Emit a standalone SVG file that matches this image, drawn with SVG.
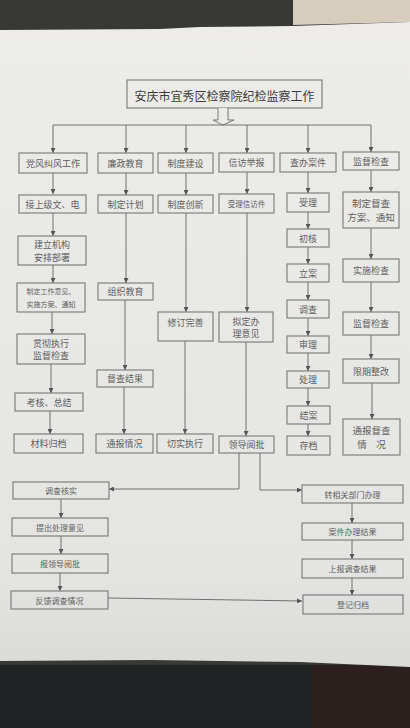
<svg xmlns="http://www.w3.org/2000/svg" width="410" height="728" viewBox="0 0 410 728">
<defs>
<linearGradient id="paper" x1="0" y1="0" x2="0" y2="1">
<stop offset="0" stop-color="#edece9"/>
<stop offset="0.5" stop-color="#e8e8e6"/>
<stop offset="0.85" stop-color="#e4e4e2"/>
<stop offset="1" stop-color="#dadad8"/>
</linearGradient>
<marker id="ah" viewBox="0 0 6 6" refX="6" refY="3" markerWidth="5" markerHeight="5" markerUnits="userSpaceOnUse" orient="auto">
<path d="M0,0 L6,3 L0,6 Z" fill="#555"/>
</marker>
<style>
.b{fill:none;stroke:#777;stroke-width:1.1}
.t{font-family:"Noto Sans CJK SC","Noto Sans CJK JP",sans-serif;fill:#606060;text-anchor:middle;dominant-baseline:central}
.c{fill:none;stroke:#707070;stroke-width:1;marker-end:url(#ah)}
.l{fill:none;stroke:#707070;stroke-width:1}
</style>
</defs>
<rect x="0" y="0" width="410" height="728" fill="#383836"/>
<polygon points="293,0 410,0 410,22 293,25" fill="#d6cdbd"/>
<polygon points="0,665 410,665 410,728 0,728" fill="#1f2323"/>
<polygon points="312,665 410,665 410,728 312,728" fill="#2b201d"/>
<path d="M0,30 L160,29 L200,27 L293,26 L410,22 L410,667 L300,662 L150,660 L0,661 Z" fill="url(#paper)"/>

<g id="title">
<rect class="b" x="127" y="80" width="195" height="28"/>
<text class="t" x="224.5" y="95" font-size="12" style="fill:#3c3c3c">安庆市宜秀区检察院纪检监察工作</text>
<path d="M218,108 V120 H213 L223,125 L234,120 H228 V108" fill="#ececea" stroke="#777" stroke-width="1"/>
</g>

<g id="connectors">
<path class="l" d="M53,125 H371"/>
<path class="c" d="M53,125 V153"/>
<path class="c" d="M126,125 V153"/>
<path class="c" d="M186,125 V153"/>
<path class="c" d="M247,125 V153"/>
<path class="c" d="M308,125 V153"/>
<path class="c" d="M371,125 V152"/>
<path class="c" d="M53,173 V194"/>
<path class="c" d="M53,213 V236"/>
<path class="c" d="M53,265 V283"/>
<path class="c" d="M52,312 V334"/>
<path class="c" d="M51,364 V393"/>
<path class="c" d="M50,411 V434"/>
<path class="c" d="M126,173 V195"/>
<path class="c" d="M126,213 V283"/>
<path class="c" d="M125,300 V370"/>
<path class="c" d="M124,387 V434"/>
<path class="c" d="M186,173 V195"/>
<path class="c" d="M186,213 V312"/>
<path class="c" d="M185,341 V434"/>
<path class="c" d="M247,172 V194"/>
<path class="c" d="M247,213 V312"/>
<path class="c" d="M246,342 V436"/>
<path class="c" d="M308,172 V193"/>
<path class="c" d="M308,212 V229"/>
<path class="c" d="M308,247 V264"/>
<path class="c" d="M308,282 V300"/>
<path class="c" d="M308,318 V336"/>
<path class="c" d="M308,353 V371"/>
<path class="c" d="M308,388 V406"/>
<path class="c" d="M308,424 V436"/>
<path class="c" d="M371,170 V192"/>
<path class="c" d="M371,228 V259"/>
<path class="c" d="M371,282 V312"/>
<path class="c" d="M371,335 V359"/>
<path class="c" d="M372,383 V419"/>
<path class="c" d="M239,453 V489 H109"/>
<path class="c" d="M260,453 V490 H302"/>
<path class="c" d="M61,499 V518"/>
<path class="c" d="M61,536 V554"/>
<path class="c" d="M60,573 V591"/>
<path class="c" d="M352,503 V523"/>
<path class="c" d="M352,540 V559"/>
<path class="c" d="M352,578 V595"/>
<path class="c" d="M108,598 L302,601"/>
</g>

<g id="n1"><rect class="b" x="19" y="153" width="68" height="20"/><text class="t" x="53" y="163" font-size="9">党风纠风工作</text></g>
<g id="n2"><rect class="b" x="98" y="153" width="55" height="20"/><text class="t" x="125.5" y="163" font-size="9">廉政教育</text></g>
<g id="n3"><rect class="b" x="158" y="153" width="55" height="20"/><text class="t" x="185.5" y="163" font-size="9">制度建设</text></g>
<g id="n4"><rect class="b" x="219" y="153" width="55" height="19"/><text class="t" x="246.5" y="162.5" font-size="9">信访举报</text></g>
<g id="n5"><rect class="b" x="280" y="153" width="56" height="19"/><text class="t" x="308" y="162.5" font-size="9">查办案件</text></g>
<g id="n6"><rect class="b" x="343" y="152" width="56" height="18"/><text class="t" x="371" y="161" font-size="9">监督检查</text></g>

<g id="n7"><rect class="b" x="19" y="195" width="67" height="18"/><text class="t" x="52.5" y="204" font-size="9">接上级文、电</text></g>
<g id="n8"><rect class="b" x="98" y="195" width="55" height="18"/><text class="t" x="125.5" y="204" font-size="9">制定计划</text></g>
<g id="n9"><rect class="b" x="158" y="195" width="55" height="18"/><text class="t" x="185.5" y="204" font-size="9">制度创新</text></g>
<g id="n10"><rect class="b" x="219" y="194" width="55" height="19"/><text class="t" x="246.5" y="203.5" font-size="7.5">受理信访件</text></g>
<g id="n11"><rect class="b" x="287" y="193" width="42" height="19"/><text class="t" x="308" y="202.5" font-size="9">受理</text></g>
<g id="n12"><rect class="b" x="343" y="192" width="56" height="36"/><text class="t" x="371" y="203" font-size="9.5">制定督查</text><text class="t" x="371" y="217" font-size="9.5">方案、通知</text></g>

<g id="n13"><rect class="b" x="18" y="236" width="68" height="29"/><text class="t" x="52" y="244" font-size="9">建立机构</text><text class="t" x="52" y="257" font-size="9">安排部署</text></g>
<g id="n14"><rect class="b" x="287" y="229" width="42" height="18"/><text class="t" x="308" y="238" font-size="9">初核</text></g>
<g id="n15"><rect class="b" x="343" y="259" width="56" height="23"/><text class="t" x="371" y="270.5" font-size="9">实施检查</text></g>
<g id="n16"><rect class="b" x="287" y="264" width="42" height="18"/><text class="t" x="308" y="273" font-size="9">立案</text></g>

<g id="n17"><rect class="b" x="17" y="283" width="68" height="29"/><text class="t" x="51" y="291" font-size="7">制定工作意见、</text><text class="t" x="51" y="303.5" font-size="7">实施方案、通知</text></g>
<g id="n18"><rect class="b" x="98" y="283" width="55" height="17"/><text class="t" x="125.5" y="291.5" font-size="9">组织教育</text></g>
<g id="n19"><rect class="b" x="287" y="300" width="42" height="18"/><text class="t" x="308" y="309" font-size="9">调查</text></g>
<g id="n20"><rect class="b" x="158" y="312" width="55" height="29"/><text class="t" x="185.5" y="322" font-size="9">修订完善</text></g>
<g id="n21"><rect class="b" x="219" y="312" width="54" height="30"/><text class="t" x="246" y="321" font-size="9">拟定办</text><text class="t" x="246" y="333.5" font-size="9">理意见</text></g>
<g id="n22"><rect class="b" x="343" y="312" width="56" height="23"/><text class="t" x="371" y="323.5" font-size="9">监督检查</text></g>

<g id="n23"><rect class="b" x="17" y="334" width="68" height="30"/><text class="t" x="51" y="343" font-size="9">贯彻执行</text><text class="t" x="51" y="355" font-size="9">监督检查</text></g>
<g id="n24"><rect class="b" x="287" y="336" width="42" height="17"/><text class="t" x="308" y="344.5" font-size="9">审理</text></g>
<g id="n25"><rect class="b" x="343" y="359" width="56" height="24"/><text class="t" x="371" y="371" font-size="9">限期整改</text></g>
<g id="n26"><rect class="b" x="97" y="370" width="56" height="17"/><text class="t" x="125" y="378.5" font-size="9">督查结果</text></g>
<g id="n27"><rect class="b" x="287" y="371" width="42" height="17"/><text class="t" x="308" y="379.5" font-size="9">处理</text></g>
<g id="n28"><rect class="b" x="15" y="393" width="68" height="18"/><text class="t" x="49" y="402" font-size="9">考核、总结</text></g>
<g id="n29"><rect class="b" x="287" y="406" width="43" height="18"/><text class="t" x="308.5" y="415" font-size="9">结案</text></g>
<g id="n30"><rect class="b" x="343" y="419" width="57" height="36"/><text class="t" x="371.5" y="430" font-size="9.5">通报督查</text><text class="t" x="371.5" y="444" font-size="9.5">情　况</text></g>

<g id="n31"><rect class="b" x="14" y="434" width="69" height="19"/><text class="t" x="48.5" y="443.5" font-size="9">材料归档</text></g>
<g id="n32"><rect class="b" x="96" y="434" width="57" height="19"/><text class="t" x="124.5" y="443.5" font-size="9">通报情况</text></g>
<g id="n33"><rect class="b" x="157" y="434" width="56" height="19"/><text class="t" x="185" y="443.5" font-size="9">切实执行</text></g>
<g id="n34"><rect class="b" x="219" y="436" width="55" height="17"/><text class="t" x="246.5" y="444.5" font-size="9">领导阅批</text></g>
<g id="n35"><rect class="b" x="287" y="436" width="43" height="19"/><text class="t" x="308.5" y="445.5" font-size="9">存档</text></g>

<g id="n36"><rect class="b" x="13" y="482" width="96" height="17"/><text class="t" x="61" y="490.5" font-size="8">调查核实</text></g>
<g id="n37"><rect class="b" x="12" y="518" width="96" height="18"/><text class="t" x="60" y="527" font-size="8">提出处理意见</text></g>
<g id="n38"><rect class="b" x="12" y="554" width="96" height="19"/><text class="t" x="60" y="563.5" font-size="8">报领导阅批</text></g>
<g id="n39"><rect class="b" x="11" y="591" width="97" height="18"/><text class="t" x="59.5" y="600" font-size="8">反馈调查情况</text></g>
<g id="n40"><rect class="b" x="302" y="485" width="101" height="18"/><text class="t" x="352.5" y="494" font-size="8">转相关部门办理</text></g>
<g id="n41"><rect class="b" x="302" y="523" width="101" height="17"/><text class="t" x="352.5" y="531.5" font-size="8">案件办理结果</text></g>
<g id="n42"><rect class="b" x="302" y="559" width="101" height="19"/><text class="t" x="352.5" y="568.5" font-size="8">上报调查结果</text></g>
<g id="n43"><rect class="b" x="303" y="595" width="100" height="19"/><text class="t" x="353" y="604.5" font-size="8">登记归档</text></g>
</svg>
